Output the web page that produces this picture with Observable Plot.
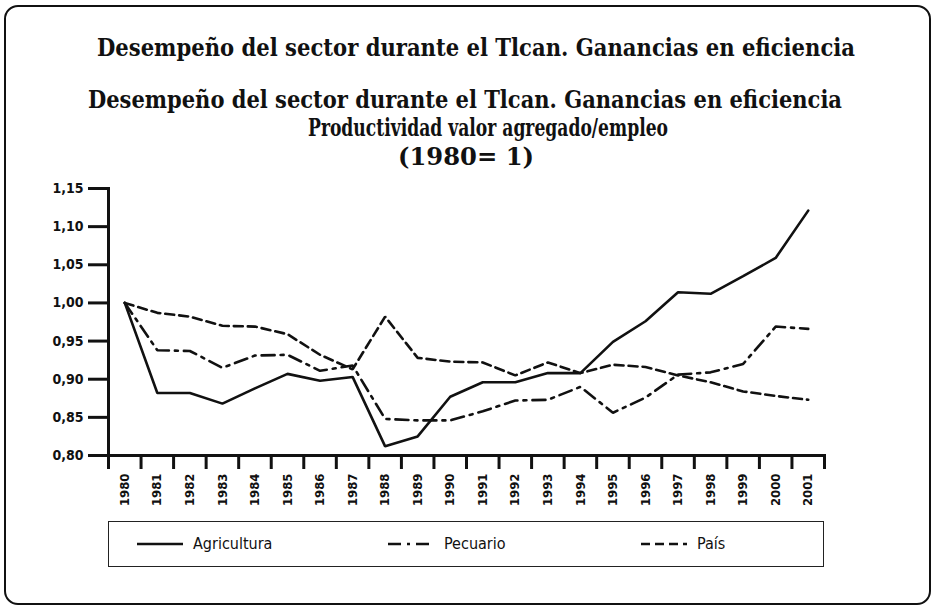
<!DOCTYPE html>
<html><head><meta charset="utf-8">
<script src="https://cdn.jsdelivr.net/npm/d3@7"></script>
<script src="https://cdn.jsdelivr.net/npm/@observablehq/plot@0.6"></script>
<style>
html,body{margin:0;padding:0;background:#fff;}
#wrap{position:relative;width:936px;height:611px;overflow:hidden;background:#fff;}
#chart{position:absolute;left:0;top:0;}
.frame{position:absolute;left:4px;top:5px;width:927px;height:600px;border:2px solid #111;border-radius:14px;box-sizing:border-box;}
.t{position:absolute;display:inline-block;font-family:"DejaVu Serif Condensed","DejaVu Serif",serif;font-weight:bold;font-size:23.5px;color:#111;white-space:nowrap;line-height:1;transform-origin:0 0;}
.legend{position:absolute;left:108px;top:521px;width:716px;height:46px;border:1.5px solid #222;box-sizing:border-box;}
.item{position:absolute;top:0;height:43px;display:flex;align-items:center;font-family:"DejaVu Sans Condensed","DejaVu Sans",sans-serif;font-size:16px;color:#111;}
.item svg{margin-right:10px;}
</style>
</head><body>
<div id="wrap">
  <div class="frame"></div>
  <div id="chart"></div>
  <div id="legend" class="legend"></div>
</div>
<script>
const years = [1980,1981,1982,1983,1984,1985,1986,1987,1988,1989,1990,1991,1992,1993,1994,1995,1996,1997,1998,1999,2000,2001];
const agricultura = [1.000,0.882,0.882,0.868,0.888,0.907,0.898,0.903,0.812,0.825,0.877,0.896,0.896,0.908,0.908,0.949,0.976,1.014,1.012,1.035,1.059,1.121];
const pecuario    = [1.000,0.938,0.937,0.915,0.931,0.932,0.911,0.918,0.848,0.846,0.846,0.858,0.872,0.873,0.890,0.856,0.876,0.906,0.909,0.920,0.969,0.966];
const pais        = [1.000,0.987,0.982,0.970,0.969,0.959,0.932,0.913,0.982,0.928,0.923,0.922,0.905,0.922,0.908,0.919,0.916,0.905,0.896,0.884,0.878,0.873];
const seriesNames = ["Agricultura","Pecuario","País"];
const seriesValues = [agricultura, pecuario, pais];
const yTicks = [0.80,0.85,0.90,0.95,1.00,1.05,1.10,1.15];
const titleLines = [
  "Desempeño del sector durante el Tlcan. Ganancias en eficiencia",
  "Desempeño del sector durante el Tlcan. Ganancias en eficiencia",
  "Productividad valor agregado/empleo",
  "(1980= 1)"
];

const dashes = {"Agricultura": null, "Pecuario": "13,6,3,6", "País": "9,5"};
const rows = seriesNames.flatMap((name, i) => years.map((yr, j) => ({series: name, year: yr, value: seriesValues[i][j]})));
const bounds = [years[0] - 0.5, ...years.map(y => y + 0.5)];

const font = "DejaVu Sans Condensed, DejaVu Sans, sans-serif";
const chart = Plot.plot({
  width: 936,
  height: 611,
  marginLeft: 108,
  marginRight: 112,
  marginTop: 188,
  marginBottom: 156,
  style: {background: "transparent", color: "#111", fontFamily: font},
  x: {type: "linear", domain: [bounds[0], bounds[bounds.length - 1]]},
  y: {domain: [0.80, 1.15]},
  marks: [
    Plot.axisY({ticks: yTicks, tickSize: 20, strokeWidth: 3, tickPadding: 5, tickFormat: d => d.toFixed(2).replace(".", ","), fontSize: 14, fontWeight: "bold", fontFamily: font, label: null, stroke: "#111", fill: "#111"}),
    Plot.axisX({ticks: bounds, tickSize: 14, strokeWidth: 3, tickFormat: () => "", label: null, stroke: "#111"}),
    Plot.axisX({ticks: years, tickSize: 0, tickRotate: -90, tickPadding: 18, tickFormat: d => String(d), fontSize: 13, fontWeight: "bold", fontFamily: font, label: null, fill: "#111"}),
    Plot.frame({anchor: "left", strokeWidth: 3, stroke: "#111"}),
    Plot.frame({anchor: "bottom", strokeWidth: 3, stroke: "#111"}),
    ...seriesNames.map(name => Plot.line(rows.filter(r => r.series === name), {x: "year", y: "value", stroke: "#111", strokeWidth: 2.6, strokeDasharray: dashes[name], strokeLinejoin: "miter"}))
  ]
});
document.getElementById("chart").appendChild(chart);

// titles: center x, top y, target width (layout only)
const wrap = document.getElementById("wrap");
const titleLayout = [[476, 37, 758], [465, 89, 754], [488, 117, 360], [466, 146, 136]];
titleLines.forEach((txt, i) => {
  const [cx, top, w] = titleLayout[i];
  const s = document.createElement("div");
  s.className = "t";
  s.textContent = txt;
  s.style.top = top + "px";
  s.style.left = "0px";
  wrap.appendChild(s);
  const mw = s.getBoundingClientRect().width;
  const k = w / mw;
  s.style.left = (cx - w / 2) + "px";
  s.style.transform = `scaleX(${k})`;
});

// legend
const legendPos = [28, 279, 532];
const leg = document.getElementById("legend");
legendPos.forEach((left, i) => {
  const div = document.createElement("div");
  div.className = "item";
  div.style.left = left + "px";
  const d = dashes[seriesNames[i]];
  div.innerHTML = `<svg width="46" height="6"><line x1="0" x2="46" y1="3" y2="3" stroke="#111" stroke-width="2.6" ${d ? `stroke-dasharray="${d}"` : ""}/></svg><span>${seriesNames[i]}</span>`;
  leg.appendChild(div);
});
</script>
</body></html>
